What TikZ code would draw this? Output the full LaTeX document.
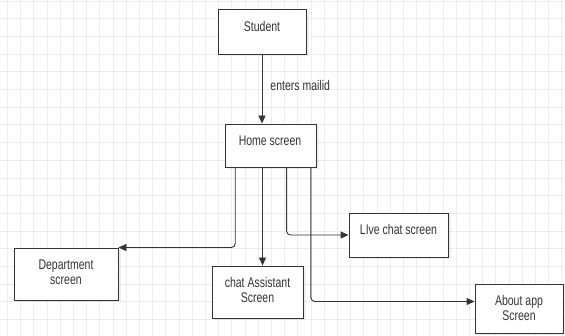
\documentclass[tikz,border=0pt]{standalone}
\usepackage{fontspec}
\newfontfamily\narrowfont{Liberation Sans}[FakeStretch=0.75]
\usetikzlibrary{arrows.meta,shadows}
\definecolor{gridgray}{HTML}{EDEDED}
\definecolor{inkgray}{HTML}{333333}
\begin{document}
\begin{tikzpicture}[
    x=1pt, y=-1pt,
    screen/.style={rectangle, draw=inkgray, fill=white, line width=0.9pt, inner sep=0pt,
        drop shadow={shadow xshift=2.5pt, shadow yshift=-2.5pt, opacity=0.12}},
    caption/.style={text=inkgray, align=center, inner sep=0pt, font=\narrowfont\fontsize{14}{15}\selectfont},
    arrow/.style={-{Triangle[length=8pt,width=7pt]}, draw=inkgray, line width=0.9pt}
]
    % Background grid
    \useasboundingbox[fill=white] (0,0) rectangle (565,336);
    \foreach \gx in {0,...,42}
        \draw[gridgray, line width=0.8pt] (7.3+13.2*\gx,0) -- (7.3+13.2*\gx,336);
    \foreach \gy in {0,...,18}
        \draw[gridgray, line width=0.8pt] (0,1+17.7*\gy) -- (565,1+17.7*\gy);

    % Student and home screen
    \node[screen, minimum width=88pt, minimum height=45pt] (student) at (262,31.5) {};
    \node[caption] (studenttxt) at (262,26.5) {Student};
    \node[screen, minimum width=91pt, minimum height=43pt] (home) at (270.5,145.5) {};
    \node[caption] (hometxt) at (270,141) {Home screen};

    % Screens reached from home
    \node[screen, minimum width=104pt, minimum height=52pt] (dept) at (66,274) {};
    \node[caption] (depttxt) at (66,272) {Department\\screen};
    \node[screen, minimum width=91pt, minimum height=52pt] (assist) at (257.5,292) {};
    \node[caption] (assisttxt) at (257.5,290) {chat Assistant\\Screen};
    \node[screen, minimum width=99pt, minimum height=44pt] (live) at (398.5,235) {};
    \node[caption] (livetxt) at (398.5,229.5) {LIve chat screen};
    \node[screen, minimum width=88pt, minimum height=49pt] (about) at (519,308.5) {};
    \node[caption] (abouttxt) at (519,308) {About app\\Screen};

    % Arrows
    \draw[arrow] (student.south) -- (student.south |- home.north)
        node[caption, midway, right, xshift=8pt, yshift=3pt] (mailtxt) {enters mailid};
    \coordinate (h1) at ([xshift=10.7pt]home.south west);
    \coordinate (h2) at ([xshift=38pt]home.south west);
    \coordinate (h3) at ([xshift=62pt]home.south west);
    \coordinate (h4) at ([xshift=86.3pt]home.south west);
    \draw[arrow, rounded corners=4pt] (h1) |- (dept.north east);
    \draw[arrow] (h2) -- (h2 |- assist.north);
    \draw[arrow, rounded corners=4pt] (h3) |- (live.west);
    \draw[arrow, rounded corners=4pt] (h4) |- ([yshift=7pt]about.west);
\end{tikzpicture}
\end{document}
